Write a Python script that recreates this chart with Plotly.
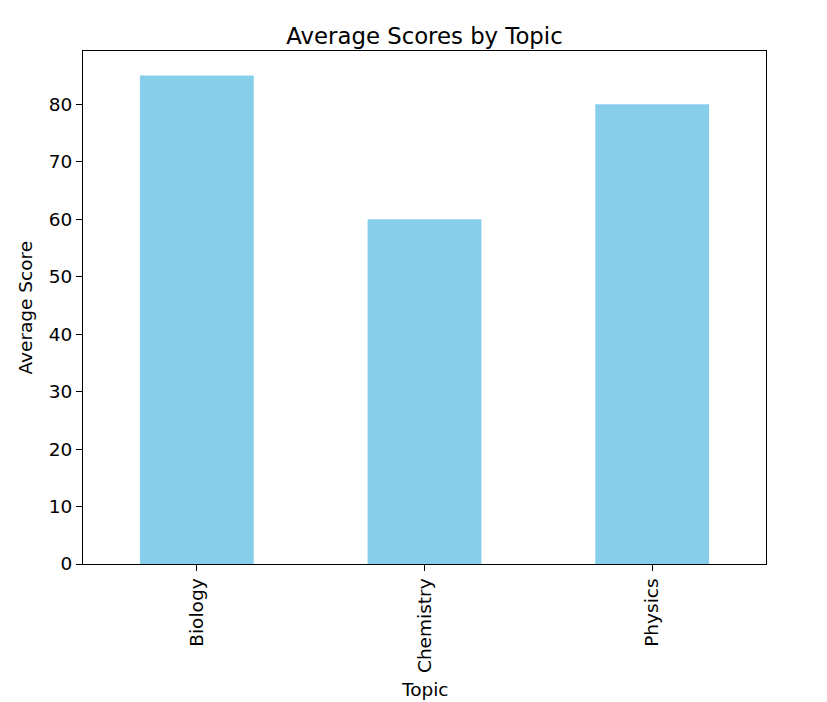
import plotly.graph_objects as go

topics = ["Biology", "Chemistry", "Physics"]
scores = [85, 60, 80]
y_ticks = [0, 10, 20, 30, 40, 50, 60, 70, 80]

OFF = 8  # page body margin
W, H = 827 - OFF, 702 - OFF
L, R, T, B = 83 - OFF, 766 - OFF, 51 - OFF, 564 - OFF

fig = go.Figure(go.Bar(x=topics, y=scores, marker_color="#87CEEB", width=0.5,
                       marker_line_width=0))

font = dict(family="DejaVu Sans", size=18.5, color="black")
fig.update_layout(
    width=W, height=H,
    margin=dict(l=L, r=W - R, t=T, b=H - B, pad=0),
    plot_bgcolor="white", paper_bgcolor="white",
    font=font,
    title=dict(text="Average Scores by Topic", x=(L + R) / 2 / W, xanchor="center",
               xref="container", yref="container", y=1 - (36 - OFF) / H, yanchor="middle",
               font=dict(family="DejaVu Sans", size=22.8, color="black")),
    showlegend=False,
)
fig.update_xaxes(range=[-0.5, 2.5], showline=True, mirror=True, linecolor="black",
                 linewidth=1, ticks="outside", ticklen=6, tickcolor="black",
                 tickangle=-90, showgrid=False, tickfont=font)
fig.update_yaxes(range=[0, 89.25], tickvals=y_ticks, showline=True, mirror=True,
                 linecolor="black", linewidth=1, ticks="outside", ticklen=6,
                 tickcolor="black", showgrid=False, zeroline=False, tickfont=font)
fig.add_annotation(text="Topic", xref="paper", yref="paper", x=0.5,
                   y=-(690 - OFF - B) / (B - T), xanchor="center", yanchor="middle",
                   showarrow=False, font=font)
fig.add_annotation(text="Average Score", xref="paper", yref="paper",
                   x=-(L - (25 - OFF)) / (R - L), y=0.5, xanchor="center", yanchor="middle",
                   textangle=-90, showarrow=False, font=font)
fig.write_html("out.html")
